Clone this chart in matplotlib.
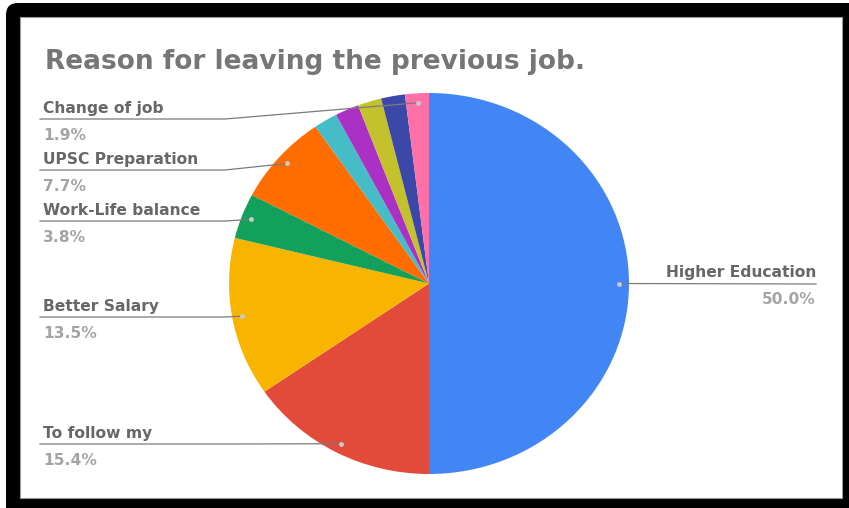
import matplotlib.pyplot as plt
from matplotlib.patches import FancyBboxPatch, Rectangle
import numpy as np

# survey answers, in slice order (clockwise from 12 o'clock)
reasons = ["Higher Education", "To follow my", "Better Salary", "Work-Life balance",
           "UPSC Preparation", "", "", "", "", "Change of job"]
counts = [26, 8, 7, 2, 4, 1, 1, 1, 1, 1]
colors = ["#4285f4", "#e24a3a", "#f8b500", "#13a05a", "#ff6d00",
          "#46bdc6", "#ab30c4", "#c4c22c", "#3b48a8", "#ff6fa8"]

title = "Reason for leaving the previous job."

# y of each leader line (pixels from top) for the labelled slices
label_rows = {"Change of job": 119, "UPSC Preparation": 170, "Work-Life balance": 221,
              "Better Salary": 317, "To follow my": 444, "Higher Education": 284}

W, H = 849, 508
fig = plt.figure(figsize=(W / 100, H / 100), dpi=100)

# black rounded frame around a white card
bg = fig.add_axes([0, 0, 1, 1])
bg.set_xlim(0, W)
bg.set_ylim(H, 0)
bg.axis("off")
bg.add_patch(FancyBboxPatch((6, 3), 880, 540, boxstyle="round,pad=0,rounding_size=12",
                            fc="black", ec="none"))
bg.add_patch(Rectangle((20, 17), 822, 481, fc="white", ec="#9a9a9a", lw=0.8))

# pie
ax = fig.add_axes([229 / W, (H - 474) / H, 400 / W, 381 / H])
wedges, _ = ax.pie(counts, colors=colors, startangle=90, counterclock=False,
                   wedgeprops=dict(linewidth=0))
ax.set_aspect("auto")
ax.set_xlim(-1, 1)
ax.set_ylim(-1, 1)

# overlay for title, labels and leader lines
over = fig.add_axes([0, 0, 1, 1])
over.set_xlim(0, W)
over.set_ylim(H, 0)
over.axis("off")
over.patch.set_alpha(0)

over.text(45, 69, title, fontsize=19, fontweight="bold", color="#767676",
          family="DejaVu Sans", va="baseline", ha="left")

total = sum(counts)
line_col = "#7a7a7a"
name_col = "#676767"
pct_col = "#a4a4a4"
fs = 11.2
for w, name, n in zip(wedges, reasons, counts):
    if not name:
        continue
    mid = np.deg2rad((w.theta1 + w.theta2) / 2)
    disp = ax.transData.transform([(0.95 * np.cos(mid), 0.95 * np.sin(mid))])
    px, py = over.transData.inverted().transform(disp)[0]
    ly = label_rows[name]
    pct = f"{100 * n / total:.1f}%"
    if px > 429:
        over.plot([px, 816], [py, ly], color=line_col, lw=0.9)
        over.text(816, ly - 7, name, ha="right", va="baseline", fontsize=fs,
                  fontweight="bold", color=name_col, family="DejaVu Sans")
        over.text(816, ly + 20, pct, ha="right", va="baseline", fontsize=fs,
                  fontweight="bold", color=pct_col, family="DejaVu Sans")
    else:
        elbow = min(px, 225)
        over.plot([40, elbow, px], [ly, ly, py], color=line_col, lw=0.9)
        over.text(43, ly - 6, name, ha="left", va="baseline", fontsize=fs,
                  fontweight="bold", color=name_col, family="DejaVu Sans")
        over.text(43, ly + 21, pct, ha="left", va="baseline", fontsize=fs,
                  fontweight="bold", color=pct_col, family="DejaVu Sans")
    over.plot(px, py, "o", ms=3.5, color="#c9c9c9", mec="none")

fig.savefig("out.png", dpi=100)
